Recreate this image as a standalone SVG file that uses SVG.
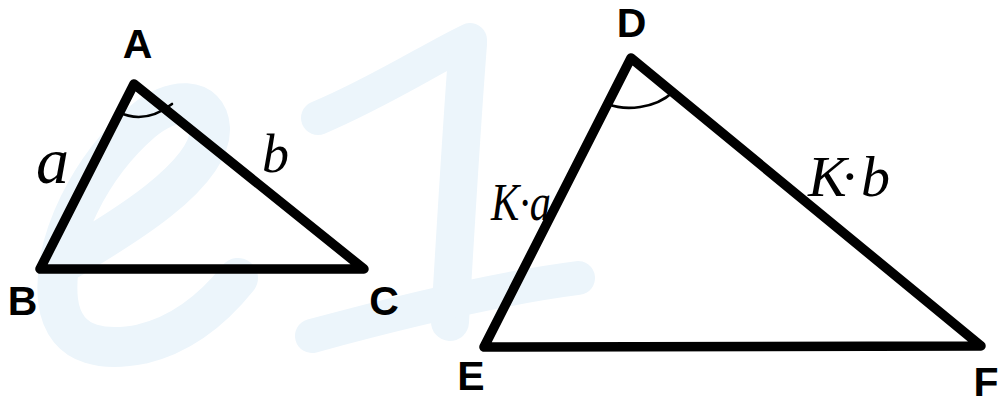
<svg xmlns="http://www.w3.org/2000/svg" width="1007" height="403" viewBox="0 0 1007 403">
<style>
.wm{fill:none;stroke:#ecf5fb;stroke-linecap:round;stroke-linejoin:round}
.side{fill:none;stroke:#000;stroke-width:9.5;stroke-linecap:round;stroke-linejoin:round}
.arc{fill:none;stroke:#000;stroke-width:2.6;stroke-linecap:round}
.vx{font-family:"Liberation Sans",Arial,sans-serif;font-weight:bold;font-size:41px;fill:#000;text-anchor:middle}
.hw{font-family:"Liberation Serif","Times New Roman",serif;font-style:italic;fill:#000}
</style>
<rect width="1007" height="403" fill="#fff"/>
<g id="watermark">
<path class="wm" stroke-width="40" d="M58 266 C120 230 212 175 210 128 C208 96 172 96 142 122 C92 165 52 240 58 300 C64 352 112 350 142 344 C184 334 214 308 238 278"/>
<path class="wm" stroke-width="34" d="M318 118 C380 92 432 58 470 40"/>
<path class="wm" stroke-width="38" d="M468 44 C462 120 456 220 450 322"/>
<path class="wm" stroke-width="34" d="M312 336 C400 312 500 288 578 278"/>
</g>
<g id="connectors">
<path id="tri-abc" class="side" d="M134 84 L40 269 L364 269 Z"/>
<path id="tri-def" class="side" d="M631 58 L484 347 L981 346 Z"/>
<path id="angle-a" class="arc" d="M118 112 Q145 125 172 104"/>
<path id="angle-d" class="arc" d="M608 104 C625 111 655 109 673 92"/>
</g>
<g id="node-A"><text class="vx" x="137.5" y="58">A</text></g>
<g id="node-B"><text class="vx" x="22.5" y="315">B</text></g>
<g id="node-C"><text class="vx" x="384" y="315">C</text></g>
<g id="node-D"><text class="vx" x="631.5" y="37">D</text></g>
<g id="node-E"><text class="vx" x="471" y="390">E</text></g>
<g id="node-F"><text class="vx" x="986" y="396">F</text></g>
<g id="label-a"><text class="hw" x="36" y="183" font-size="66">a</text></g>
<g id="label-b"><text class="hw" x="262" y="172" font-size="54">b</text></g>
<g id="label-ka"><text class="hw" x="491" y="220" font-size="52" textLength="60" lengthAdjust="spacingAndGlyphs">K·a</text></g>
<g id="label-kb"><text class="hw" x="808" y="196" font-size="58" textLength="82" lengthAdjust="spacing">K· b</text></g>
</svg>
